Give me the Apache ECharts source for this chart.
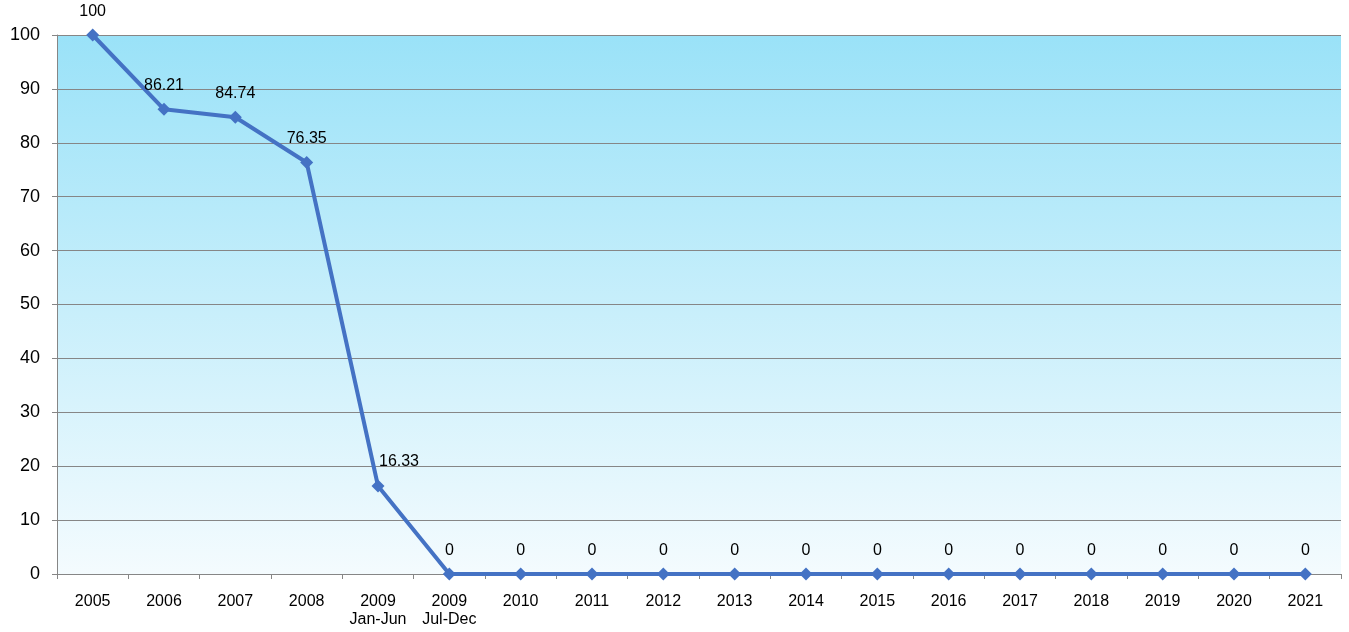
<!DOCTYPE html>
<html><head><meta charset="utf-8">
<script src="https://cdn.jsdelivr.net/npm/echarts@6/dist/echarts.min.js"></script>
<style>html,body{margin:0;padding:0;background:#fff}#c{width:1349px;height:632px}</style>
</head><body><div id="c"></div>
<script>
const categories = ["2005","2006","2007","2008","2009\nJan-Jun","2009\nJul-Dec","2010","2011","2012","2013","2014","2015","2016","2017","2018","2019","2020","2021"];
const values = [100, 86.21, 84.74, 76.35, 16.33, 0, 0, 0, 0, 0, 0, 0, 0, 0, 0, 0, 0, 0];
const yTicks = {min: 0, max: 100, interval: 10};

const chart = echarts.init(document.getElementById('c'), null, {renderer: 'canvas'});
const seriesData = values.map((v, i) => {
  const d = {value: v};
  if (i === 4) d.label = {offset: [21, -1]};
  return d;
});
chart.setOption({
  animation: false,
  grid: {
    left: 57, right: 8, top: 35, bottom: 58, show: true, borderWidth: 0,
    backgroundColor: new echarts.graphic.LinearGradient(0, 0, 0, 1, [
      {offset: 0, color: '#9ae2f8'},
      {offset: 1, color: '#f4fbfe'}
    ])
  },
  xAxis: {
    type: 'category', data: categories, boundaryGap: true,
    axisLine: {lineStyle: {color: '#868686', width: 1}},
    axisTick: {show: true, length: 5, lineStyle: {color: '#868686'}},
    axisLabel: {color: '#000', fontFamily: 'Liberation Sans, Arial', fontSize: 16, margin: 19, lineHeight: 18, interval: 0}
  },
  yAxis: {
    type: 'value', min: yTicks.min, max: yTicks.max, interval: yTicks.interval,
    axisLine: {show: true, lineStyle: {color: '#868686', width: 1}},
    axisTick: {show: true, length: 5, lineStyle: {color: '#868686'}},
    splitLine: {lineStyle: {color: '#868686', width: 1}},
    axisLabel: {color: '#000', fontFamily: 'Liberation Sans, Arial', fontSize: 18, margin: 17}
  },
  series: [{
    type: 'line', data: seriesData,
    symbol: 'diamond', symbolSize: 13,
    lineStyle: {color: '#4472c4', width: 4},
    itemStyle: {color: '#4472c4'},
    label: {show: true, position: 'top', distance: 9, color: '#000', fontFamily: 'Liberation Sans, Arial', fontSize: 16}
  }]
});
</script></body></html>
